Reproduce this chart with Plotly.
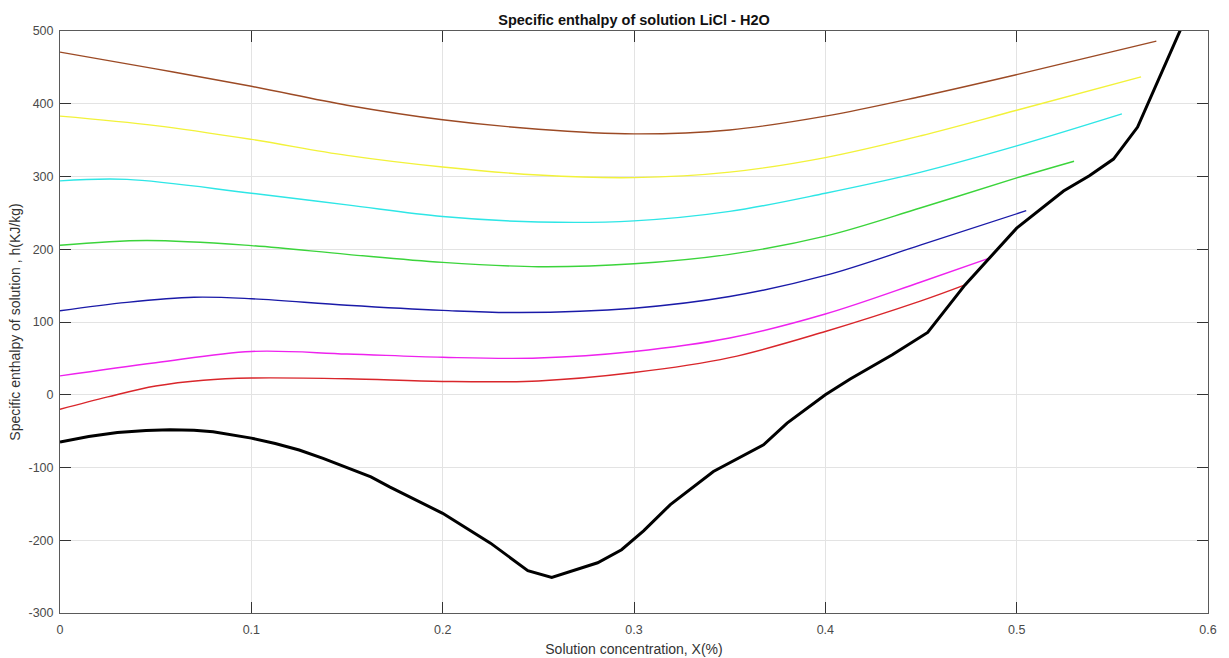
import plotly.graph_objects as go

# Isotherm curves of specific enthalpy h (kJ/kg) versus LiCl mass fraction X
x_brown = [0.0, 0.05, 0.1, 0.15, 0.2, 0.25, 0.3, 0.35, 0.4, 0.45, 0.5, 0.573]
h_brown = [471, 448, 424, 398, 378, 365, 358.6, 364, 383, 410, 440, 486]

x_yellow = [0.0, 0.05, 0.1, 0.15, 0.2, 0.25, 0.3, 0.35, 0.4, 0.45, 0.5, 0.565]
h_yellow = [383, 370, 351, 329, 313, 302, 298.5, 306, 326, 356, 391, 437]

x_cyan = [0.0, 0.035, 0.1, 0.15, 0.2, 0.25, 0.3, 0.35, 0.4, 0.45, 0.5, 0.555]
h_cyan = [294, 296, 277, 261, 245, 237.5, 239, 252, 277, 306, 342, 386]

x_green = [0.0, 0.045, 0.1, 0.15, 0.2, 0.25, 0.3, 0.35, 0.4, 0.45, 0.5, 0.53]
h_green = [205.5, 212, 205, 193, 182, 176, 180, 193, 218, 257, 298, 321]

x_blue = [0.0, 0.035, 0.07, 0.1, 0.15, 0.2, 0.24, 0.3, 0.35, 0.4, 0.45, 0.505]
h_blue = [115.5, 127, 134, 132, 123, 116, 113, 119, 135, 164, 206, 253]

x_magenta = [0.0, 0.05, 0.1, 0.15, 0.2, 0.25, 0.3, 0.35, 0.4, 0.45, 0.485]
h_magenta = [26, 44, 59.5, 56, 51.5, 50.5, 59.5, 78, 111, 155, 187]

x_red = [0.0, 0.025, 0.05, 0.075, 0.1, 0.15, 0.2, 0.25, 0.3, 0.35, 0.4, 0.45, 0.473]
h_red = [-20, -3, 12, 20, 23, 22, 18.3, 19, 30.5, 51, 87, 129, 151]

# Crystallisation / saturation boundary
x_sat = [0.0, 0.015, 0.03, 0.045, 0.0575, 0.07, 0.08, 0.09, 0.1, 0.1125, 0.125, 0.1375,
         0.15, 0.1625, 0.1725, 0.185, 0.2, 0.225, 0.2445, 0.257, 0.281, 0.2935, 0.305,
         0.319, 0.3415, 0.3677, 0.38, 0.4, 0.413, 0.435, 0.4535, 0.473, 0.485, 0.5,
         0.5245, 0.538, 0.5506, 0.5632, 0.5855]
h_sat = [-65, -57.5, -52, -49, -48, -48.8, -51, -55, -59.6, -67, -76, -87.5,
         -100, -113, -127, -143, -163, -204, -241.7, -251, -231, -213, -187,
         -151, -105.5, -68.8, -39, 0, 21.6, 55, 85.7, 151, 186, 229,
         280, 301, 324, 368, 501]

y_ticks = [-300, -200, -100, 0, 100, 200, 300, 400, 500]
y_tick_text = ["-300", "-200", "-100", "0", "100", "200", "300", "400", "500"]
x_ticks = [0, 0.1, 0.2, 0.3, 0.4, 0.5, 0.6]
x_tick_text = ["0", "0.1", "0.2", "0.3", "0.4", "0.5", "0.6"]

curves = [
    (x_red, h_red, "#d9262b"),
    (x_magenta, h_magenta, "#ee22ee"),
    (x_blue, h_blue, "#1a1aa8"),
    (x_green, h_green, "#3bd43b"),
    (x_cyan, h_cyan, "#2ee6e6"),
    (x_yellow, h_yellow, "#f2f23a"),
    (x_brown, h_brown, "#9c4a25"),
]

FONT = "Liberation Sans, Arial, sans-serif"

fig = go.Figure()
for xs, hs, col in curves:
    fig.add_trace(go.Scatter(x=xs, y=hs, mode="lines",
                             line=dict(color=col, width=1.4, shape="spline"),
                             showlegend=False, hoverinfo="x+y"))

fig.add_trace(go.Scatter(x=x_sat, y=h_sat, mode="lines",
                         line=dict(color="#000000", width=3),
                         showlegend=False, hoverinfo="x+y"))

axis_common = dict(
    showgrid=True, gridcolor="#e3e3e3", gridwidth=1,
    zeroline=False, automargin=False,
    showline=True, linecolor="#5a5a5a", linewidth=1, mirror="ticks",
    ticks="inside", ticklen=11, tickwidth=1, tickcolor="#333333",
    tickfont=dict(family=FONT, size=12.5, color="#4a4a4a"),
)

fig.update_layout(
    width=1229, height=658,
    margin=dict(l=60, r=21, t=31, b=45),
    paper_bgcolor="white", plot_bgcolor="white",
    font=dict(family=FONT, size=12, color="#333333"),
    title=dict(text="<b>Specific enthalpy of solution LiCl - H2O</b>",
               x=0.5, xref="paper", xanchor="center",
               y=1 - 19.5 / 658, yref="container", yanchor="middle",
               font=dict(family=FONT, size=14.5, color="#111111")),
    xaxis=dict(range=[0, 0.6], tickvals=x_ticks, ticktext=x_tick_text,
               ticklabelstandoff=5,
               title=dict(text="Solution concentration, X(%)", standoff=8,
                          font=dict(family=FONT, size=14, color="#333333")),
               **axis_common),
    yaxis=dict(range=[-300, 500], tickvals=y_ticks, ticktext=y_tick_text,
               ticklabelstandoff=3,
               title=dict(text="Specific enthalpy of solution , h(KJ/kg)", standoff=4,
                          font=dict(family=FONT, size=14, color="#333333")),
               **axis_common),
)

fig.write_html("out.html")
